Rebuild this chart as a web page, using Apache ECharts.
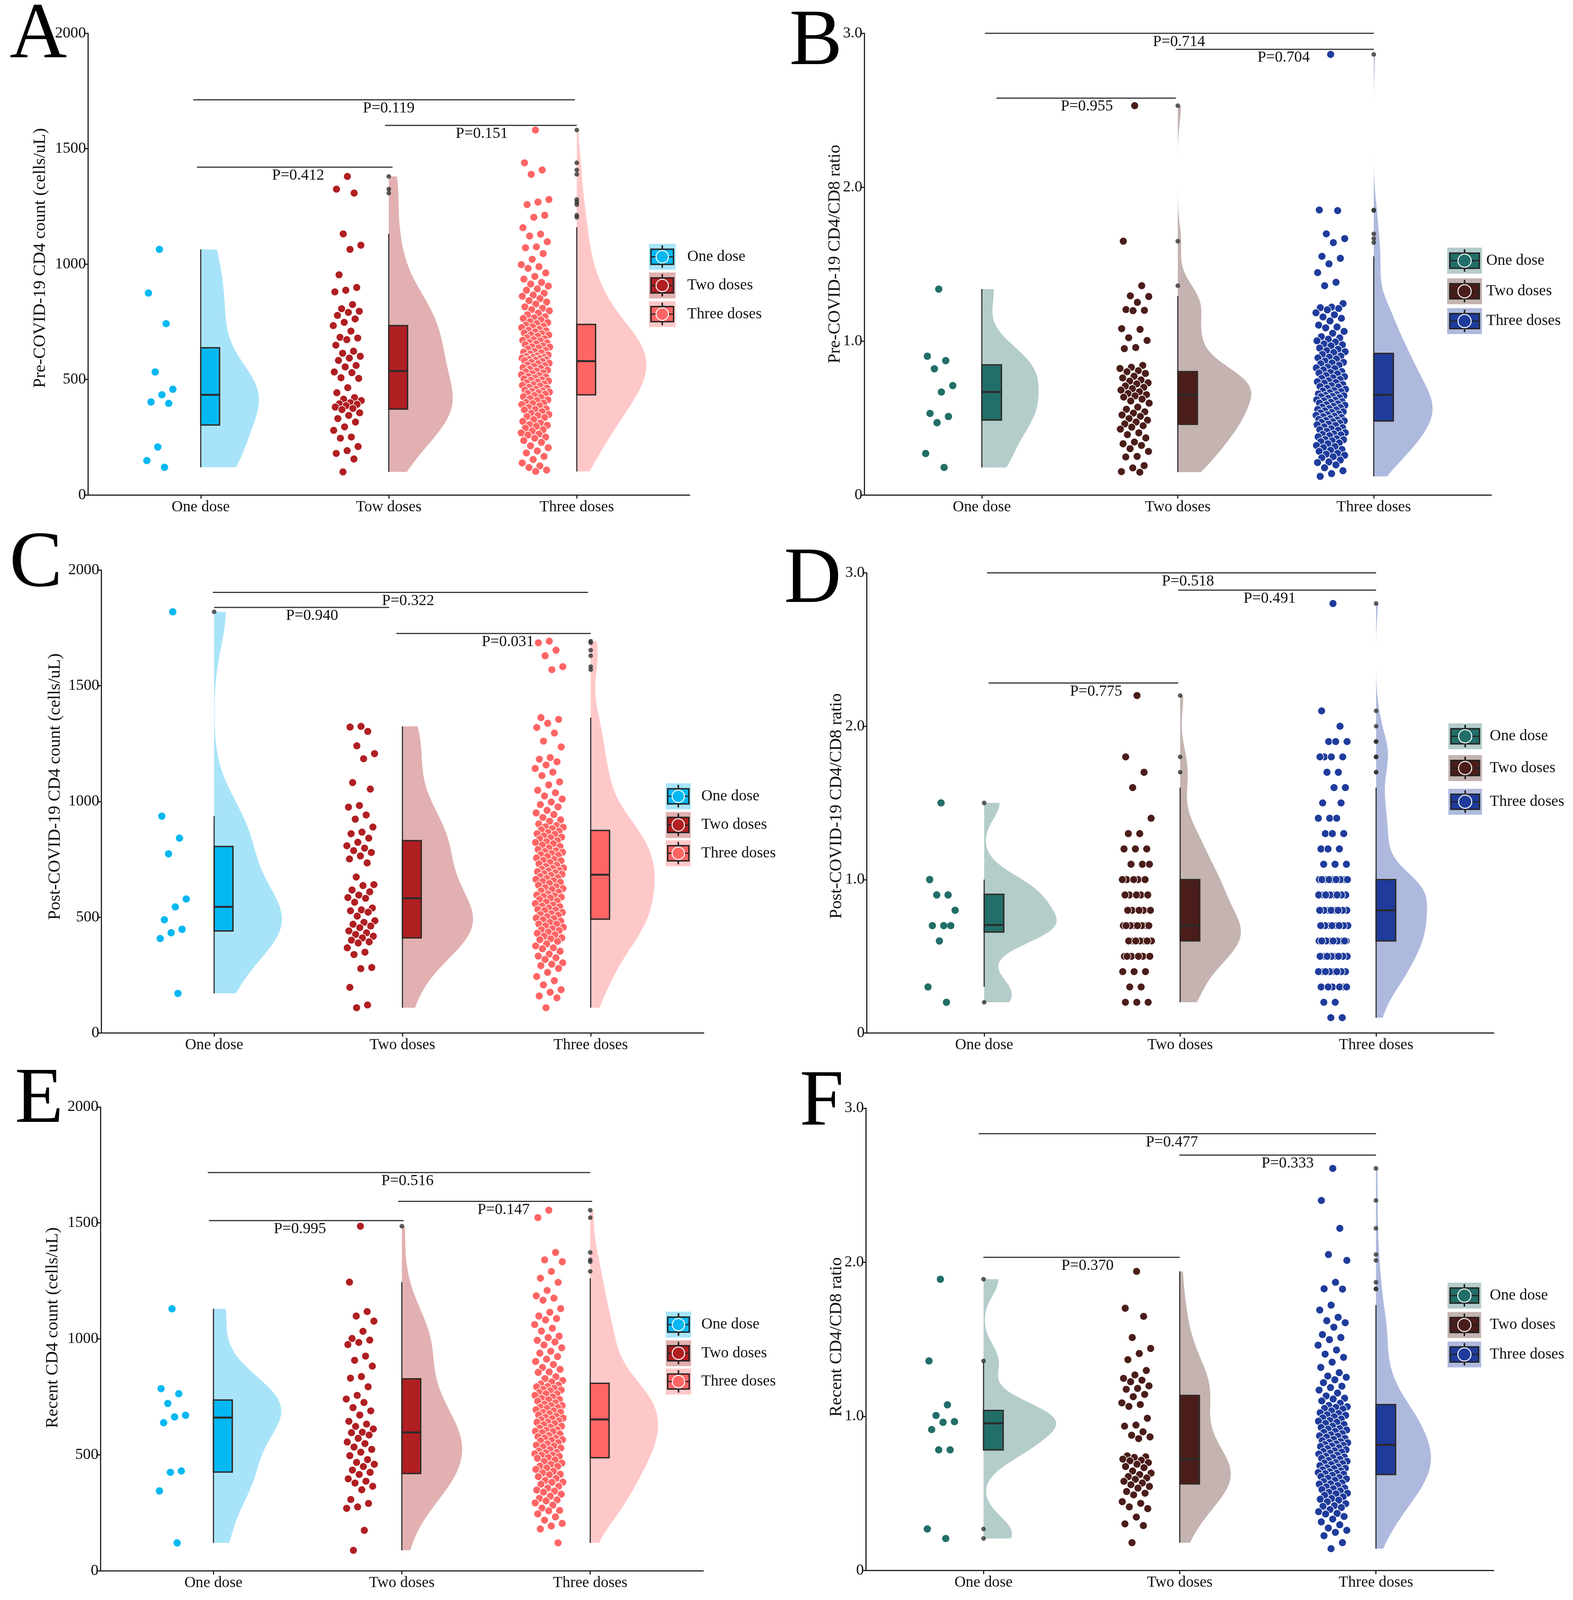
<!DOCTYPE html>
<html><head><meta charset="utf-8">
<script src="https://cdn.jsdelivr.net/npm/echarts@6/dist/echarts.min.js"></script>
<style>html,body{margin:0;padding:0;background:#fff;overflow:hidden}#c{width:100vw;height:100vh}</style>
</head><body><div id="c"></div>
<script>
// ---------------- DATA ----------------
const catsA = ['One dose','Tow doses','Three doses'];
const catsOther = ['One dose','Two doses','Three doses'];
const legendNames = ['One dose','Two doses','Three doses'];
const countTicks = [0,500,1000,1500,2000];
const ratioTicks = [0,1,2,3];

// Panel A: Pre-COVID-19 CD4 count (one / two / three doses)
const A1 = [1064,875,742,533,458,434,403,397,208,149,120];
const A2 = [1380,1325,1308,1131,1082,1064,954,899,887,880,825,807,796,791,778,763,748,734,710,683,680,673,649,623,614,601,593,583,561,555,533,530,508,505,465,443,422,415,409,400,395,393,387,381,375,370,356,345,331,316,295,280,251,246,210,192,180,156,100];
const A3 = [1581,1439,1408,1389,1280,1269,1258,1212,1203,1158,1130,1122,1097,1075,1071,1046,1021,998,989,982,962,947,935,921,914,905,893,887,874,866,861,851,842,836,827,815,809,803,798,788,781,772,768,765,759,751,747,743,736,731,729,725,718,714,711,707,702,699,694,693,688,681,677,673,670,668,661,659,655,652,646,642,641,637,633,626,622,619,616,611,607,603,600,597,596,593,591,588,585,584,582,578,575,571,569,563,560,557,552,549,545,541,537,534,529,526,521,518,513,511,507,503,499,497,494,490,486,481,478,475,472,467,463,458,455,451,449,446,443,440,437,431,426,423,418,412,409,401,398,396,392,386,379,373,371,369,361,354,349,344,340,336,327,319,312,305,302,298,290,283,277,269,264,260,251,246,236,228,213,205,191,182,167,154,139,126,119,108,102];
const boxA = [[120,303,434,638,1064],[100,372,537,734,1131],[102,434,580,739,1160]];
const pA = [[0.96,2.99,1712,2.0,'P=0.119'],[1.98,3.0,1601,2.495,'P=0.151'],[0.98,2.02,1420,1.518,'P=0.412']];

// Panel B: Pre-COVID-19 CD4/CD8 ratio
const B1 = [1.338,0.902,0.873,0.82,0.711,0.669,0.53,0.51,0.47,0.27,0.179];
const B2 = [2.53,1.649,1.36,1.294,1.29,1.252,1.205,1.2,1.198,1.081,1.076,1.022,1.004,0.958,0.951,0.842,0.83,0.822,0.808,0.801,0.79,0.772,0.761,0.748,0.74,0.729,0.722,0.708,0.7,0.691,0.682,0.671,0.66,0.652,0.644,0.636,0.623,0.611,0.597,0.571,0.557,0.541,0.532,0.52,0.511,0.497,0.486,0.474,0.462,0.45,0.441,0.428,0.404,0.392,0.371,0.344,0.333,0.322,0.301,0.283,0.251,0.247,0.191,0.176,0.152,0.148];
const B3 = [2.863,1.852,1.848,1.697,1.666,1.64,1.551,1.538,1.502,1.445,1.382,1.36,1.244,1.221,1.217,1.212,1.203,1.184,1.171,1.157,1.148,1.131,1.104,1.092,1.086,1.063,1.051,1.029,1.021,1.013,1.002,0.994,0.981,0.976,0.969,0.955,0.947,0.938,0.931,0.926,0.914,0.903,0.896,0.891,0.884,0.871,0.862,0.858,0.853,0.844,0.831,0.826,0.822,0.813,0.802,0.796,0.793,0.787,0.776,0.769,0.762,0.758,0.751,0.743,0.736,0.731,0.727,0.718,0.711,0.706,0.702,0.694,0.687,0.679,0.676,0.672,0.665,0.657,0.653,0.648,0.645,0.641,0.639,0.633,0.628,0.619,0.616,0.612,0.607,0.603,0.598,0.592,0.587,0.583,0.577,0.571,0.568,0.562,0.556,0.553,0.547,0.541,0.537,0.533,0.527,0.522,0.518,0.512,0.509,0.503,0.497,0.491,0.488,0.484,0.482,0.476,0.472,0.467,0.461,0.456,0.452,0.443,0.438,0.431,0.425,0.421,0.414,0.405,0.397,0.394,0.391,0.386,0.378,0.366,0.361,0.359,0.352,0.347,0.338,0.333,0.322,0.315,0.308,0.296,0.291,0.284,0.271,0.265,0.258,0.249,0.242,0.227,0.215,0.211,0.196,0.177,0.158,0.139,0.121];
const boxB = [[0.179,0.487,0.669,0.846,1.338],[0.148,0.459,0.651,0.802,1.294],[0.121,0.481,0.651,0.92,1.551]];
const pB = [[1.016,3.0,3.0,2.006,'P=0.714'],[1.99,3.0,2.896,2.54,'P=0.704'],[1.075,1.99,2.579,1.536,'P=0.955']];

// Panel C: Post-COVID-19 CD4 count
const C1 = [1820,937,842,774,579,545,489,448,433,408,171];
const C2 = [1325,1322,1303,1241,1207,1185,1082,1054,983,976,942,924,890,868,861,842,824,809,799,788,780,765,752,735,674,641,637,618,610,596,585,582,565,540,532,528,522,505,485,478,470,462,455,441,433,426,418,411,401,394,389,368,349,339,283,278,197,121,109];
const C3 = [1693,1686,1654,1630,1583,1570,1363,1355,1338,1320,1296,1261,1236,1190,1183,1172,1158,1143,1127,1112,1085,1072,1049,1038,1024,1011,998,987,977,962,951,944,931,921,915,903,896,891,889,883,878,872,866,861,859,851,846,843,838,831,826,823,818,812,806,799,793,787,784,781,775,771,768,763,756,750,746,744,737,731,725,719,713,711,708,702,700,697,692,688,686,681,676,671,668,664,658,655,651,646,639,633,628,624,620,614,609,601,596,592,590,587,583,577,570,566,559,553,548,546,540,534,531,529,521,515,512,509,503,497,494,489,483,478,471,470,463,457,450,446,443,436,431,425,418,411,407,403,396,385,376,368,364,353,341,332,325,318,303,297,291,279,262,244,226,208,187,176,160,152,109];
const boxC = [[171,441,545,806,937],[109,411,582,831,1325],[109,492,684,875,1363]];
const pC = [[0.993,2.986,1904,2.03,'P=0.322'],[1.0,1.93,1839,1.52,'P=0.940'],[1.968,3.0,1726,2.56,'P=0.031']];

// Panel D: Post-COVID-19 CD4/CD8 ratio
const D1 = [1.5,1.0,0.9,0.9,0.8,0.7,0.7,0.7,0.6,0.3,0.2];
const D2 = [2.2,1.8,1.7,1.6,1.4,1.3,1.3,1.2,1.2,1.2,1.1,1.1,1.1,1.0,1.0,1.0,1.0,1.0,0.9,0.9,0.9,0.9,0.9,0.8,0.8,0.8,0.8,0.8,0.7,0.7,0.7,0.7,0.7,0.7,0.7,0.7,0.6,0.6,0.6,0.6,0.6,0.6,0.6,0.5,0.5,0.5,0.5,0.5,0.5,0.4,0.4,0.4,0.3,0.3,0.2,0.2,0.2];
const D3 = [2.8,2.1,2.0,1.9,1.9,1.9,1.8,1.8,1.8,1.8,1.7,1.7,1.6,1.6,1.5,1.5,1.4,1.4,1.4,1.3,1.3,1.3,1.2,1.2,1.2,1.1,1.1,1.1,
1.0,1.0,1.0,1.0,1.0,1.0,1.0,1.0,1.0,1.0,1.0,1.0,
0.9,0.9,0.9,0.9,0.9,0.9,0.9,0.9,0.9,0.9,0.9,0.9,0.9,0.9,
0.8,0.8,0.8,0.8,0.8,0.8,0.8,0.8,0.8,0.8,0.8,0.8,
0.7,0.7,0.7,0.7,0.7,0.7,0.7,0.7,0.7,0.7,0.7,0.7,0.7,
0.6,0.6,0.6,0.6,0.6,0.6,0.6,0.6,0.6,0.6,0.6,0.6,
0.5,0.5,0.5,0.5,0.5,0.5,0.5,0.5,0.5,0.5,
0.4,0.4,0.4,0.4,0.4,0.4,0.4,0.4,
0.3,0.3,0.3,0.3,0.3,0.3,0.2,0.2,0.1,0.1];
const boxD = [[0.3,0.658,0.704,0.904,1.0],[0.2,0.6,0.7,1.0,1.6],[0.1,0.6,0.8,1.0,1.6]];
const pD = [[1.015,3.0,3.0,2.04,'P=0.518'],[1.99,3.0,2.887,2.457,'P=0.491'],[1.023,1.99,2.282,1.571,'P=0.775']];

// Panel E: Recent CD4 count
const E1 = [1130,786,764,722,671,664,639,431,425,345,121];
const E2 = [1486,1245,1118,1099,1077,1033,1002,995,985,976,926,908,883,838,831,794,757,741,726,704,690,672,645,633,623,612,598,596,586,572,556,549,534,524,512,497,480,468,460,450,435,425,416,397,387,379,365,350,308,291,276,270,175,89];
const E3 = [1555,1523,1373,1341,1333,1291,1262,1244,1209,1186,1176,1167,1131,1115,1099,1088,1082,1062,1046,1034,1012,1006,994,987,974,962,947,939,924,913,903,890,877,869,858,856,837,829,821,815,806,801,795,794,788,783,780,776,769,763,763,757,750,744,739,738,732,725,719,713,712,706,704,701,695,690,683,684,678,673,667,663,659,656,652,647,641,641,635,630,624,619,616,609,606,602,601,596,590,584,579,572,573,566,563,561,553,548,542,538,535,530,523,517,511,509,505,499,499,494,489,486,479,472,465,459,452,451,444,438,430,423,417,415,407,399,390,383,382,374,365,357,349,344,340,331,322,313,306,302,293,284,271,261,259,246,233,219,205,194,181,121];
const boxE = [[121,426,661,737,1130],[89,420,597,828,1245],[121,488,653,809,1262]];
const pE = [[0.97,3.0,1717,2.03,'P=0.516'],[1.98,3.01,1593,2.54,'P=0.147'],[0.976,2.01,1510,1.459,'P=0.995']];

// Panel F: Recent CD4/CD8 ratio
const F1 = [1.89,1.36,1.075,1.006,0.966,0.962,0.915,0.783,0.783,0.27,0.208];
const F2 = [1.941,1.702,1.649,1.512,1.441,1.408,1.368,1.298,1.269,1.247,1.235,1.225,1.198,1.182,1.176,1.143,1.128,1.088,1.077,1.065,0.988,0.944,0.937,0.9,0.878,0.867,0.856,0.744,0.738,0.734,0.723,0.716,0.712,0.7,0.69,0.675,0.668,0.646,0.632,0.623,0.61,0.601,0.592,0.579,0.568,0.557,0.546,0.535,0.513,0.502,0.491,0.447,0.436,0.413,0.402,0.347,0.303,0.292,0.181];
const F3 = [2.609,2.401,2.22,2.05,2.012,1.87,1.828,1.826,1.722,1.69,1.643,1.621,1.608,1.579,1.531,1.512,1.498,1.462,1.431,1.404,1.383,1.352,1.318,1.284,1.262,1.254,1.238,1.219,1.196,1.187,1.171,1.152,1.133,1.118,1.113,1.101,1.086,1.071,1.063,1.059,1.052,1.047,1.036,1.024,1.019,1.011,1.007,0.998,0.991,0.983,0.974,0.969,0.962,0.955,0.948,0.937,0.929,0.921,0.918,0.912,0.903,0.897,0.889,0.881,0.874,0.872,0.866,0.858,0.851,0.843,0.837,0.832,0.829,0.822,0.818,0.812,0.808,0.805,0.797,0.791,0.784,0.777,0.773,0.769,0.762,0.756,0.749,0.741,0.736,0.733,0.728,0.722,0.715,0.709,0.701,0.698,0.694,0.688,0.681,0.673,0.667,0.664,0.661,0.654,0.647,0.641,0.636,0.632,0.629,0.625,0.618,0.611,0.603,0.599,0.595,0.586,0.578,0.569,0.563,0.561,0.552,0.543,0.535,0.531,0.526,0.517,0.507,0.502,0.498,0.489,0.478,0.468,0.463,0.457,0.446,0.434,0.421,0.417,0.409,0.396,0.382,0.371,0.367,0.351,0.334,0.316,0.297,0.276,0.261,0.248,0.226,0.181,0.142];
const boxF = [[0.783,0.783,0.955,1.039,1.357],[0.181,0.562,0.723,1.136,1.941],[0.142,0.623,0.816,1.077,1.722]];
const pF = [[0.975,3.0,2.834,1.96,'P=0.477'],[1.998,3.0,2.695,2.55,'P=0.333'],[0.999,2.0,2.032,1.53,'P=0.370']];

// ---------------- STYLE / LAYOUT (reference pixel space 4026x4131, scaled to viewport) ----------------
const SX = window.innerWidth/4026, SY = window.innerHeight/4131, SF = Math.min(SX,SY);
const FONT = '"Liberation Serif","Times New Roman",Times,serif';
const palettes = [
  {pt:['#05B8F2','#B01F22','#FF6565'], vio:['#A8E4F9','#E2B0B0','#FFC8C8']},
  {pt:['#226E68','#4B1D1A','#1F3C9C'], vio:['#B4CDCB','#C4B3B0','#AEB9DE']}
];
const panels = [
 {letter:'A', lpos:[98,93], title:'Pre-COVID-19 CD4 count (cells/uL)', tpos:[103,666], cats:catsA, groups:[A1,A2,A3], box:boxA, pv:pA, ymax:2000, ticks:countTicks, pal:0,
  grid:{left:225,top:86,width:1540,height:1192}, vw:[0.31,0.34,0.37], leg:{x:1661,w:68,tx:1759,ys:[663,737,811]}},
 {letter:'B', lpos:[2088,112], title:'Pre-COVID-19 CD4/CD8 ratio', tpos:[2137,656], cats:catsOther, groups:[B1,B2,B3], box:boxB, pv:pB, ymax:3, ticks:ratioTicks, pal:1,
  grid:{left:2212,top:86,width:1605,height:1192}, vw:[0.29,0.375,0.30], leg:{x:3704,w:89,tx:3804,ys:[673,752,829]}},
 {letter:'C', lpos:[92,1459], title:'Post-COVID-19 CD4 count (cells/uL)', tpos:[141,2031], cats:catsOther, groups:[C1,C2,C3], box:boxC, pv:pC, ymax:2000, ticks:countTicks, pal:0,
  grid:{left:259,top:1472,width:1542,height:1195}, vw:[0.36,0.375,0.34], leg:{x:1704,w:64,tx:1795,ys:[2056,2130,2203]}},
 {letter:'D', lpos:[2080,1500], title:'Post-COVID-19 CD4/CD8 ratio', tpos:[2141,2081], cats:catsOther, groups:[D1,D2,D3], box:boxD, pv:pD, ymax:3, ticks:ratioTicks, pal:1,
  grid:{left:2218,top:1479,width:1605,height:1188}, vw:[0.37,0.31,0.26], leg:{x:3707,w:86,tx:3813,ys:[1901,1983,2070]}},
 {letter:'E', lpos:[100,2843], title:'Recent CD4 count (cells/uL)', tpos:[135,3428], cats:catsOther, groups:[E1,E2,E3], box:boxE, pv:pE, ymax:2000, ticks:countTicks, pal:0,
  grid:{left:257,top:2858,width:1543,height:1198}, vw:[0.36,0.32,0.36], leg:{x:1704,w:65,tx:1795,ys:[3420,3494,3567]}},
 {letter:'F', lpos:[2103,2850], title:'Recent CD4/CD8 ratio', tpos:[2141,3452], cats:catsOther, groups:[F1,F2,F3], box:boxF, pv:pF, ymax:3, ticks:ratioTicks, pal:1,
  grid:{left:2216,top:2861,width:1607,height:1194}, vw:[0.37,0.26,0.28], leg:{x:3705,w:86,tx:3813,ys:[3345,3421,3497]}}
];
const BOXW = 0.1, JIT_C = -0.22, JIT_W = 0.076;

function quantile(s,p){const h=(s.length-1)*p;const lo=Math.floor(h),hi=Math.ceil(h);return s[lo]+(s[hi]-s[lo])*(h-lo);}
function kde(vals){
  const s=[...vals].sort((a,b)=>a-b);const n=s.length;
  const mean=s.reduce((a,b)=>a+b,0)/n;
  const sd=Math.sqrt(s.reduce((a,b)=>a+(b-mean)*(b-mean),0)/(n-1));
  const iqr=quantile(s,0.75)-quantile(s,0.25);
  let lo=Math.min(sd,iqr/1.34); if(!(lo>0)) lo=sd;
  const bw=0.9*lo*Math.pow(n,-0.2);
  const a=s[0],b=s[n-1];const K=220;const out=[];let mx=0;
  for(let i=0;i<=K;i++){const y=a+(b-a)*i/K;let d=0;for(const v of s){const z=(y-v)/bw;d+=Math.exp(-0.5*z*z);}out.push([y,d]);if(d>mx)mx=d;}
  return out.map(([y,d])=>[y,d/mx]);
}
function jit(i){const u=(i*0.6180339887+0.5)%1;return JIT_C+(2*u-1)*JIT_W;}
const fs = v => Math.round(v*SF*10)/10;

const option={animation:false,backgroundColor:'#ffffff',grid:[],xAxis:[],yAxis:[],series:[],graphic:[]};

panels.forEach((p,pi)=>{
  const pal=palettes[p.pal];
  option.grid.push({containLabel:false,left:p.grid.left*SX,top:p.grid.top*SY,width:p.grid.width*SX,height:p.grid.height*SY});
  option.xAxis.push({type:'value',gridIndex:pi,min:0.4,max:3.6,splitLine:{show:false},
    axisLine:{show:true,onZero:false,lineStyle:{color:'#222',width:3}},
    axisTick:{show:true,customValues:[1,2,3],length:9,lineStyle:{color:'#222',width:3}},
    axisLabel:{show:true,customValues:[1,2,3],formatter:v=>p.cats[Math.round(v)-1],fontFamily:FONT,fontSize:fs(40),color:'#111',margin:11}});
  option.yAxis.push({type:'value',gridIndex:pi,min:0,max:p.ymax,interval:p.ticks[1]-p.ticks[0],splitLine:{show:false},
    axisLine:{show:true,onZero:false,lineStyle:{color:'#222',width:3}},
    axisTick:{show:true,length:8,lineStyle:{color:'#222',width:3}},
    axisLabel:{fontFamily:FONT,fontSize:fs(40),color:'#111',margin:5,formatter:v=>p.ymax===3?(v===0?'0':v.toFixed(1)):String(v)}});
  // half violins
  p.groups.forEach((vals,g)=>{
    const dens=kde(vals);const cx=g+1;const w=p.vw[g];const col=pal.vio[g];
    option.series.push({type:'custom',xAxisIndex:pi,yAxisIndex:pi,z:1,silent:true,clip:false,data:[[cx,dens[0][0]]],
      renderItem:(params,api)=>{
        const pts=dens.map(([y,d])=>api.coord([cx+d*w,y]));
        pts.push(api.coord([cx,dens[dens.length-1][0]]));
        pts.push(api.coord([cx,dens[0][0]]));
        return {type:'polygon',shape:{points:pts},style:{fill:col}};
      }});
  });
  // boxes with whiskers
  option.series.push({type:'custom',xAxisIndex:pi,yAxisIndex:pi,z:2,silent:true,clip:false,
    data:p.box.map((b,g)=>[g+1].concat(b)),
    renderItem:(params,api)=>{
      const x=api.value(0),mn=api.value(1),q1=api.value(2),md=api.value(3),q3=api.value(4),mx=api.value(5);
      const t=api.coord([x,mx]),bt=api.coord([x,mn]),a=api.coord([x,q3]),b=api.coord([x+BOXW,q1]);
      const m1=api.coord([x,md]),m2=api.coord([x+BOXW,md]);
      return {type:'group',children:[
        {type:'line',shape:{x1:t[0],y1:t[1],x2:bt[0],y2:bt[1]},style:{stroke:'#333',lineWidth:3}},
        {type:'rect',shape:{x:a[0],y:a[1],width:b[0]-a[0],height:b[1]-a[1]},style:{fill:pal.pt[params.dataIndex],stroke:'#2e2a27',lineWidth:3.5}},
        {type:'line',shape:{x1:m1[0],y1:m1[1],x2:m2[0],y2:m2[1]},style:{stroke:'#2a2a2a',lineWidth:5}}
      ]};
    }});
  // jittered raw points
  p.groups.forEach((vals,g)=>{
    option.series.push({type:'scatter',xAxisIndex:pi,yAxisIndex:pi,z:3,silent:true,symbol:'circle',
      symbolSize:fs(g===0?19:20),
      itemStyle:{color:pal.pt[g],borderColor:'#ffffff',borderWidth:g===0?0:1.5,opacity:1},
      data:vals.map((v,i)=>[g+1+jit(i),v])});
  });
  // boxplot outliers (values beyond whiskers) at box position
  const outs=[];
  p.groups.forEach((vals,g)=>{vals.forEach(v=>{if(v>p.box[g][4]||v<p.box[g][0])outs.push([g+1,v]);});});
  option.series.push({type:'scatter',xAxisIndex:pi,yAxisIndex:pi,z:4,silent:true,symbolSize:fs(12),itemStyle:{color:'#333333'},data:outs});
  // significance brackets
  option.series.push({type:'custom',xAxisIndex:pi,yAxisIndex:pi,z:5,silent:true,clip:false,
    data:p.pv.map(r=>[r[0],r[1],r[2],r[3]]),
    renderItem:(params,api)=>{
      const s=api.coord([api.value(0),api.value(2)]),e=api.coord([api.value(1),api.value(2)]),l=api.coord([api.value(3),api.value(2)]);
      return {type:'group',children:[
        {type:'line',shape:{x1:s[0],y1:s[1],x2:e[0],y2:e[1]},style:{stroke:'#333',lineWidth:3}},
        {type:'text',style:{text:p.pv[params.dataIndex][4],x:l[0],y:l[1]+22*SY,align:'center',verticalAlign:'middle',fontFamily:FONT,fontSize:fs(40),fill:'#111'}}
      ]};
    }});
  // panel letter and y-axis title
  option.graphic.push({type:'text',x:p.lpos[0]*SX,y:p.lpos[1]*SY,style:{text:p.letter,align:'center',verticalAlign:'middle',fontFamily:FONT,fontSize:fs(205),fill:'#000'}});
  option.graphic.push({type:'text',x:p.tpos[0]*SX,y:p.tpos[1]*SY,rotation:Math.PI/2,style:{text:p.title,align:'center',verticalAlign:'middle',fontFamily:FONT,fontSize:fs(45),fill:'#111'}});
  // legend keys
  const L=p.leg;
  legendNames.forEach((nm,g)=>{
    const yc=L.ys[g]*SY;const H=67*SY,ih=39*SY;const x0=L.x*SX,w=L.w*SX;const cxk=x0+w/2;const r=(L.w>75?17:16)*SF;
    option.graphic.push({type:'group',children:[
      {type:'rect',shape:{x:x0,y:yc-H/2,width:w,height:H},style:{fill:pal.vio[g]}},
      {type:'line',shape:{x1:cxk,y1:yc-H/2+4,x2:cxk,y2:yc+H/2-5},style:{stroke:'#222',lineWidth:4}},
      {type:'rect',shape:{x:x0+w*0.075,y:yc-ih/2,width:w*0.85,height:ih},style:{fill:pal.pt[g],stroke:'#222',lineWidth:3.5}},
      {type:'line',shape:{x1:x0+w*0.075,y1:yc,x2:x0+w*0.925,y2:yc},style:{stroke:'#222',lineWidth:3}},
      {type:'circle',shape:{cx:cxk,cy:yc,r:r},style:{fill:pal.pt[g],stroke:'#fff',lineWidth:2.5}},
      {type:'text',x:L.tx*SX,y:yc,style:{text:nm,align:'left',verticalAlign:'middle',fontFamily:FONT,fontSize:fs(40),fill:'#111'}}
    ]});
  });
});

const chart=echarts.init(document.getElementById('c'),null,{renderer:'canvas'});
chart.setOption(option);
</script>
</body></html>
